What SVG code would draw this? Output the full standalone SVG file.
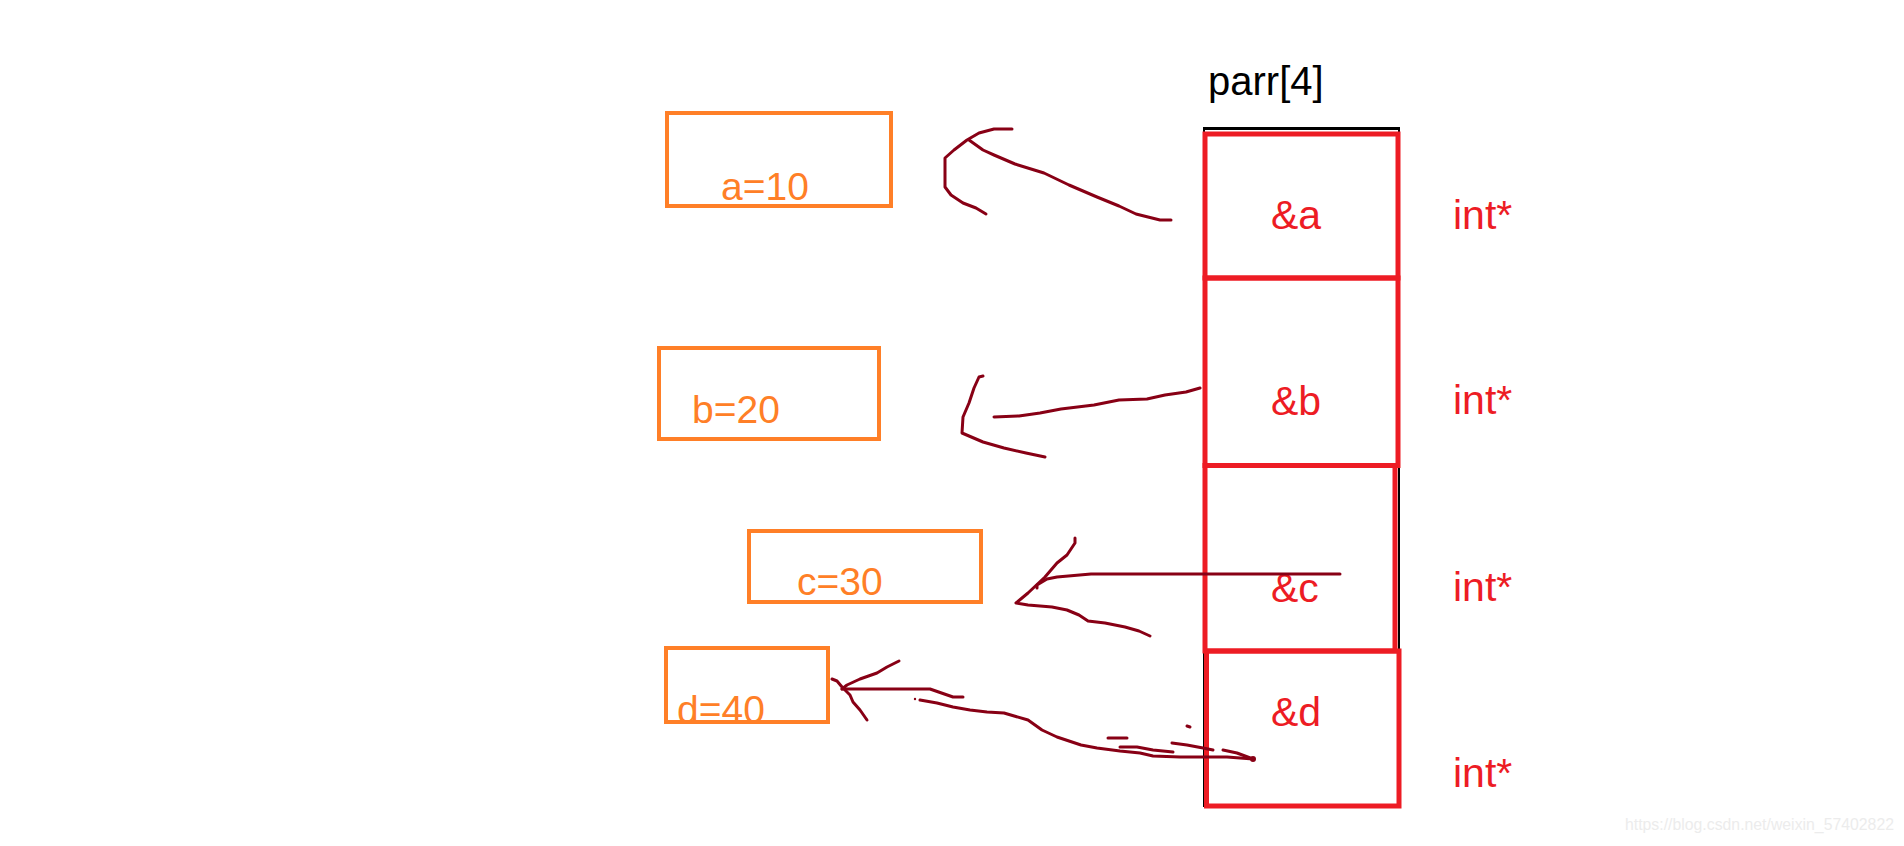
<svg xmlns="http://www.w3.org/2000/svg" width="1904" height="846" viewBox="0 0 1904 846">
<style>
.txt{font-family:"Liberation Sans",Arial,sans-serif;}
.var{fill:none;stroke:#FF7F27;stroke-width:4;}
.vt{fill:#FF7F27;font-size:39px;}
.cell{fill:none;stroke:#ED1C24;stroke-width:5;}
.ct{fill:#ED1C24;font-size:41px;}
.lnk{fill:none;stroke:#880015;stroke-width:3;stroke-linecap:round;stroke-linejoin:round;}
</style>
<rect width="1904" height="846" fill="#ffffff"/>
<text class="txt" x="1208" y="95" font-size="40" fill="#000000">parr[4]</text>
<g id="var-a">
<text class="txt vt" x="721" y="200">a=10</text>
<rect class="var" x="667" y="113" width="224" height="93"/>
</g>
<g id="var-b">
<text class="txt vt" x="692" y="423">b=20</text>
<rect class="var" x="659" y="348" width="220" height="91"/>
</g>
<g id="var-c">
<text class="txt vt" x="797" y="595">c=30</text>
<rect class="var" x="749" y="531" width="232" height="71"/>
</g>
<g id="var-d">
<text class="txt vt" x="677" y="723">d=40</text>
<rect class="var" x="666" y="648" width="162" height="74"/>
</g>
<g id="parr">
<line x1="1203" y1="128.5" x2="1400" y2="128.5" stroke="#000" stroke-width="3"/>
<rect x="1204" y="129" width="195" height="677" fill="none" stroke="#000" stroke-width="2"/>
</g>
<g id="cell-a">
<rect class="cell" x="1205" y="134" width="193" height="144"/>
<text class="txt ct" x="1271" y="229">&amp;a</text>
<text class="txt ct" x="1453" y="229">int*</text>
</g>
<g id="cell-b">
<rect class="cell" x="1205" y="278" width="193" height="187.5"/>
<text class="txt ct" x="1271" y="415">&amp;b</text>
<text class="txt ct" x="1453" y="414">int*</text>
</g>
<g id="cell-c">
<rect class="cell" x="1205" y="465.5" width="190" height="185.5"/>
<text class="txt ct" x="1271" y="602">&amp;c</text>
<text class="txt ct" x="1453" y="601">int*</text>
</g>
<g id="cell-d">
<rect class="cell" x="1206.5" y="651" width="192.5" height="155"/>
<text class="txt ct" x="1271" y="726">&amp;d</text>
<text class="txt ct" x="1453" y="787">int*</text>
</g>
<g id="connectors">
<path class="lnk" d="M1171,220 L1160,220 L1136,214 L1119,206 L1097,197 L1069,185 L1044,173 L1015,164 L994,155 L983,150 L969,140"/>
<path class="lnk" d="M1012,129 L994,129 L979,133 L967,140 L954,150 L945,158 L945,187 L951,195 L963,203 L976,208 L986,214"/>
<path class="lnk" d="M1200,388 L1186,392 L1165,395 L1147,399 L1119,400 L1094,405 L1061,409 L1040,413 L1019,416 L994,417"/>
<path class="lnk" d="M983,376 L979,377 L974,388 L969,403 L963,417 L962,433 L983,442 L1004,448 L1026,453 L1045,457"/>
<path class="lnk" d="M1340,574 L1205,574 L1091,574 L1057,577 L1047,579 L1037,585 L1037,588"/>
<path class="lnk" d="M1075,538 L1075,543 L1067,555 L1057,563 L1045,577 L1028,593 L1016,603 L1028,605 L1052,607 L1067,610 L1079,615 L1088,621 L1105,623 L1125,627 L1139,631 L1150,636"/>
<path class="lnk" d="M842,689 L930,689 L953,697 L963,697"/>
<path class="lnk" d="M899,661 L887,667 L877,673 L860,679 L847,685 L842,689"/>
<path class="lnk" d="M832,679 L837,681 L842,687 L850,695 L853,702 L860,710 L867,720"/>
<path class="lnk" d="M920,700 L937,703 L953,707 L970,710 L987,712 L1004,713 L1028,720 L1042,730 L1057,737 L1081,745 L1097,748 L1120,751 L1140,753 L1153,756 L1180,757 L1207,757 L1227,757 L1253,759"/>
<path class="lnk" d="M1120,747 L1137,747 L1153,750 L1173,752"/>
<path class="lnk" d="M1172,743 L1187,745 L1203,748 L1213,750"/>
<path class="lnk" d="M1223,750 L1237,753 L1253,759"/>
<path class="lnk" stroke-width="2" d="M1108,738 L1127,738"/>
<path class="lnk" stroke-width="2" d="M1187,726 L1190,727"/>
<circle cx="915" cy="699" r="1.2" fill="#880015"/>
<circle cx="1253" cy="759" r="3" fill="#880015"/>
</g>
<text class="txt" x="1625" y="830" font-size="17" fill="#ececec" textLength="269" lengthAdjust="spacingAndGlyphs">https://blog.csdn.net/weixin_57402822</text>
</svg>
